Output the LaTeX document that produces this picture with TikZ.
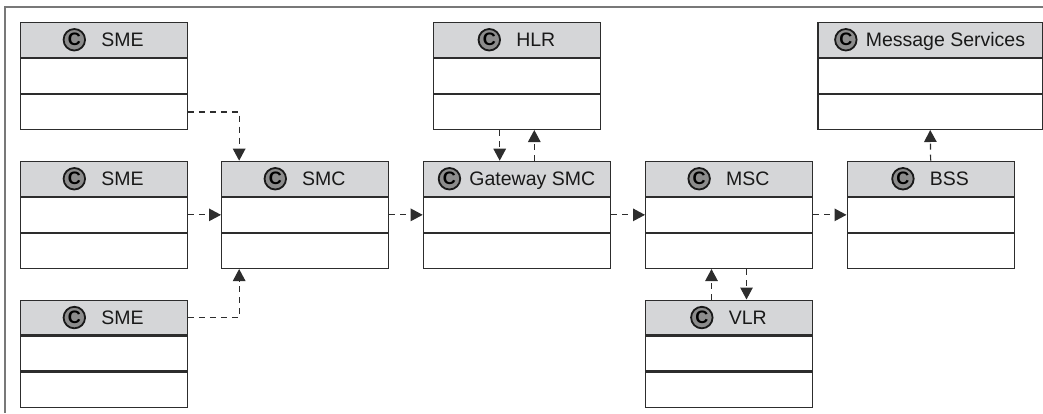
\documentclass[tikz,border=0pt]{standalone}
\usepackage{fontspec}
\setmainfont{Liberation Sans}
\usetikzlibrary{arrows.meta,calc}

\definecolor{headfill}{RGB}{213,214,216}
\definecolor{edgegray}{RGB}{45,45,45}
\definecolor{framegray}{RGB}{120,120,120}
\definecolor{iconfill}{RGB}{140,140,140}

\tikzset{
  rowbox/.style={draw=edgegray, line width=1.3pt, minimum height=34.8pt,
    inner sep=0pt, anchor=north west},
  headbox/.style={rowbox, fill=headfill},
  classname/.style={inner sep=0pt, anchor=base, text=black!90,
    font=\fontsize{19.5}{19.5}\selectfont},
  cicon/.style={circle, draw=black!90, line width=1.8pt, fill=iconfill,
    minimum size=21.5pt, inner sep=0pt, text=black,
    font=\bfseries\fontsize{18}{18}\selectfont},
  link/.style={draw=edgegray, line width=1.2pt, dash pattern=on 6pt off 5pt,
    -{Triangle[width=12.5pt,length=12pt]}}
}

% class box: name, left x, top y, width, gap icon->title, title
\newcommand\classbox[6]{%
  \node[headbox, minimum width=#4] (#1-h) at (#2,-#3) {};
  \node[rowbox, minimum width=#4] (#1-a) at (#1-h.south west) {};
  \node[rowbox, minimum width=#4] (#1-o) at (#1-a.south west) {};
  \node[classname] (#1-t) at ($(#1-h.center)+({(21.5+#5)/2},-7)$) {#6};
  \node[cicon] (#1-c) at ($(#1-t.west |- #1-h.center)+({-#5-10.75},0)$) {C};
}

\begin{document}
\begin{tikzpicture}[x=1pt,y=1pt]
\useasboundingbox (0,0) rectangle (1043,-413);

% page frame
\draw[framegray, line width=2pt] (1043,-7) -- (5,-7) -- (5,-413);

% classes
\classbox{sme1}{19.5}{21.7}{167}{16}{SME}
\classbox{sme2}{19.5}{160.7}{167}{16}{SME}
\classbox{sme3}{19.5}{299.5}{167}{16}{SME}
\classbox{smc}{221}{160.7}{167}{16}{SMC}
\classbox{hlr}{432.7}{21.7}{167.3}{16}{HLR}
\classbox{gw}{422.7}{160.7}{187.3}{9}{Gateway SMC}
\classbox{msc}{645}{160.7}{166.7}{16}{MSC}
\classbox{vlr}{645}{299.5}{166.7}{16}{VLR}
\classbox{bss}{846.5}{160.7}{167}{16}{BSS}
\classbox{msg}{817.3}{21.7}{224.5}{9}{Message Services}

% dependencies
\draw[link] (sme1-o.east) -| ([xshift=-66pt]smc-h.north);
\draw[link] (sme2-a.east) -- (smc-a.west);
\draw[link] (sme3-h.east) -| ([xshift=-66pt]smc-o.south);
\draw[link] (smc-a.east) -- (gw-a.west);
\draw[link] ([xshift=-17.3pt]hlr-o.south) -- ([xshift=-17.3pt]gw-h.north);
\draw[link] ([xshift=17.3pt]gw-h.north) -- ([xshift=17.3pt]hlr-o.south);
\draw[link] (gw-a.east) -- (msc-a.west);
\draw[link] (msc-a.east) -- (bss-a.west);
\draw[link] (bss-h.north) -- (msg-o.south);
\draw[link] ([xshift=17.5pt]msc-o.south) -- ([xshift=17.5pt]vlr-h.north);
\draw[link] ([xshift=-17.5pt]vlr-h.north) -- ([xshift=-17.5pt]msc-o.south);
\end{tikzpicture}
\end{document}
